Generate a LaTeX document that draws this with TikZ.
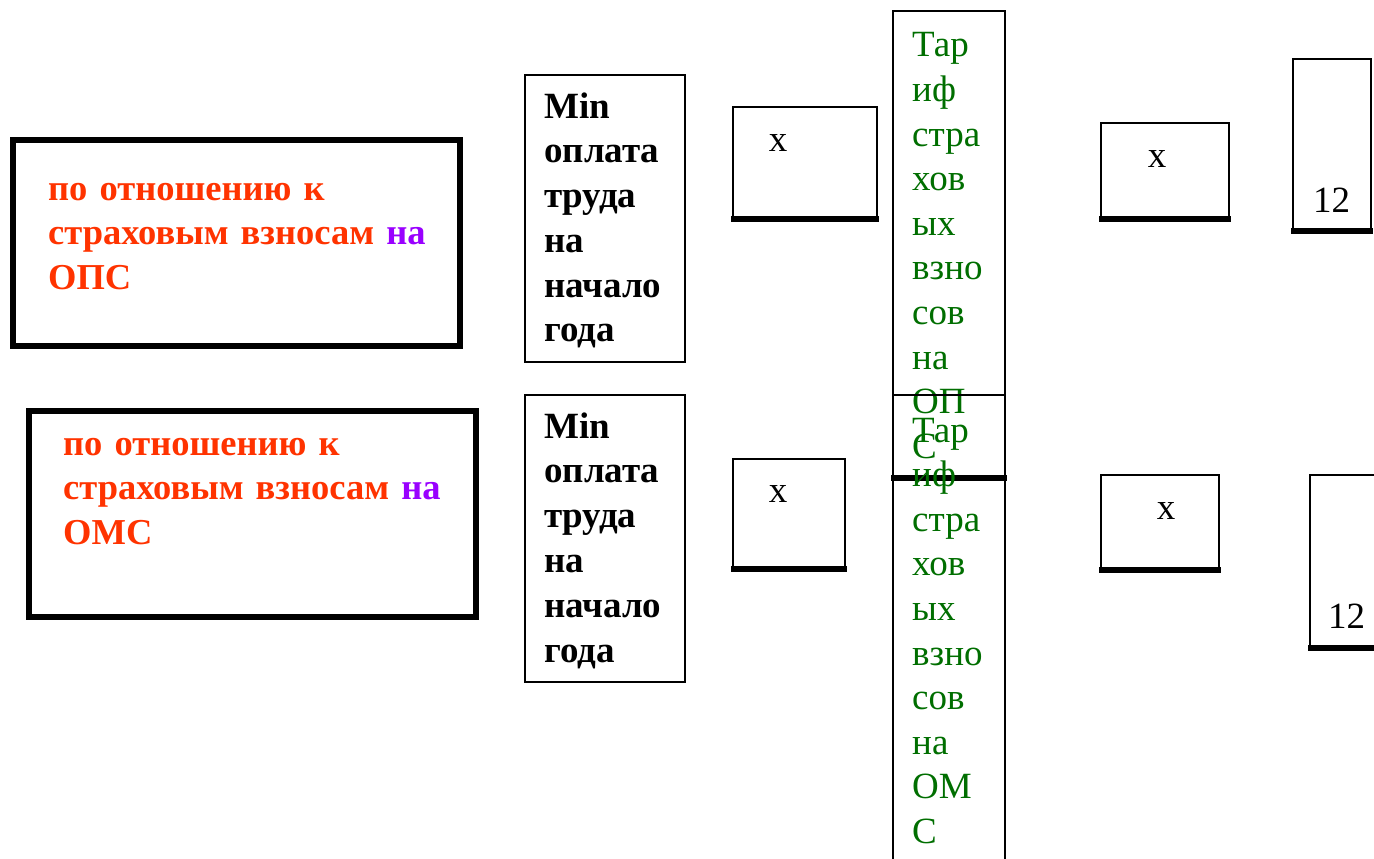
\documentclass[tikz,border=0pt]{standalone}
\usepackage{fontspec}
\setmainfont{Liberation Serif}
\definecolor{opsred}{RGB}{255,51,0}
\definecolor{navio}{RGB}{153,0,255}
\definecolor{tarifgreen}{RGB}{0,110,0}
\tikzset{
    thinbox/.style={line width=2.5pt},
    heavybox/.style={line width=6pt},
    lowedge/.style={line width=5.5pt},
    redtxt/.style={anchor=base west, inner sep=0pt, text width=430pt, align=left,
        text=opsred, font=\fontsize{36.5}{44.5}\selectfont\bfseries},
    mintxt/.style={anchor=base west, inner sep=0pt, text width=140pt, align=left,
        font=\fontsize{37}{44.8}\selectfont\bfseries},
    greentxt/.style={anchor=base west, inner sep=0pt, text width=90pt, align=left,
        text=tarifgreen, font=\fontsize{37}{44.6}\selectfont},
    plaintxt/.style={anchor=base, inner sep=0pt, font=\fontsize{37}{44}\selectfont}
}

\begin{document}
\begin{tikzpicture}[x=1pt,y=-1pt]
    \useasboundingbox (0,0) rectangle (1374,859);
    \begin{scope}
        \clip (0,0) rectangle (1374,859);

        % left boxes
        \draw [heavybox] (13,140) rectangle (460,346);
        \node [redtxt] (opsText) at (48,200)
            {по отношению к\\страховым взносам \textcolor{navio}{на}\\ОПС};
        \draw [heavybox] (29,411) rectangle (476,617);
        \node [redtxt] (omsText) at (63,455)
            {по отношению к\\страховым взносам \textcolor{navio}{на}\\ОМС};

        % Min boxes
        \draw [thinbox] (525,75) rectangle (685,362);
        \node [mintxt] (minTop) at (544,118) {Min\\оплата\\труда\\на\\начало\\года};
        \draw [thinbox] (525,395) rectangle (685,682);
        \node [mintxt] (minBot) at (544,438) {Min\\оплата\\труда\\на\\начало\\года};

        % x boxes
        \draw [thinbox] (733,107) rectangle (877,219);
        \draw [lowedge] (731,219) -- (879,219);
        \node [plaintxt] (xTopA) at (778,151) {x};
        \draw [thinbox] (733,459) rectangle (845,569);
        \draw [lowedge] (731,569) -- (847,569);
        \node [plaintxt] (xBotA) at (778,502) {x};

        % tariff columns
        \draw [thinbox] (893,11) rectangle (1005,478);
        \node [greentxt] (tarTop) at (912,57)
            {Тар\\иф\\стра\\хов\\ых\\взно\\сов\\на\\ОП\\С};
        \draw [thinbox] (893,395) rectangle (1005,880);
        \draw [lowedge] (891,478) -- (1007,478);
        \node [greentxt] (tarBot) at (912,442)
            {Тар\\иф\\стра\\хов\\ых\\взно\\сов\\на\\ОМ\\С};

        % second x boxes
        \draw [thinbox] (1101,123) rectangle (1229,219);
        \draw [lowedge] (1099,219) -- (1231,219);
        \node [plaintxt] (xTopB) at (1157,167) {x};
        \draw [thinbox] (1101,475) rectangle (1219,570);
        \draw [lowedge] (1099,570) -- (1221,570);
        \node [plaintxt] (xBotB) at (1166,519) {x};

        % 12 boxes
        \draw [thinbox] (1293,59) rectangle (1371,231);
        \draw [lowedge] (1291,231) -- (1373,231);
        \node [plaintxt, anchor=base west] (twelveTop) at (1313,212) {12};
        \draw [thinbox] (1310,475) rectangle (1390,648);
        \draw [lowedge] (1308,648) -- (1390,648);
        \node [plaintxt, anchor=base west] (twelveBot) at (1328,628) {12};
    \end{scope}
\end{tikzpicture}
\end{document}
